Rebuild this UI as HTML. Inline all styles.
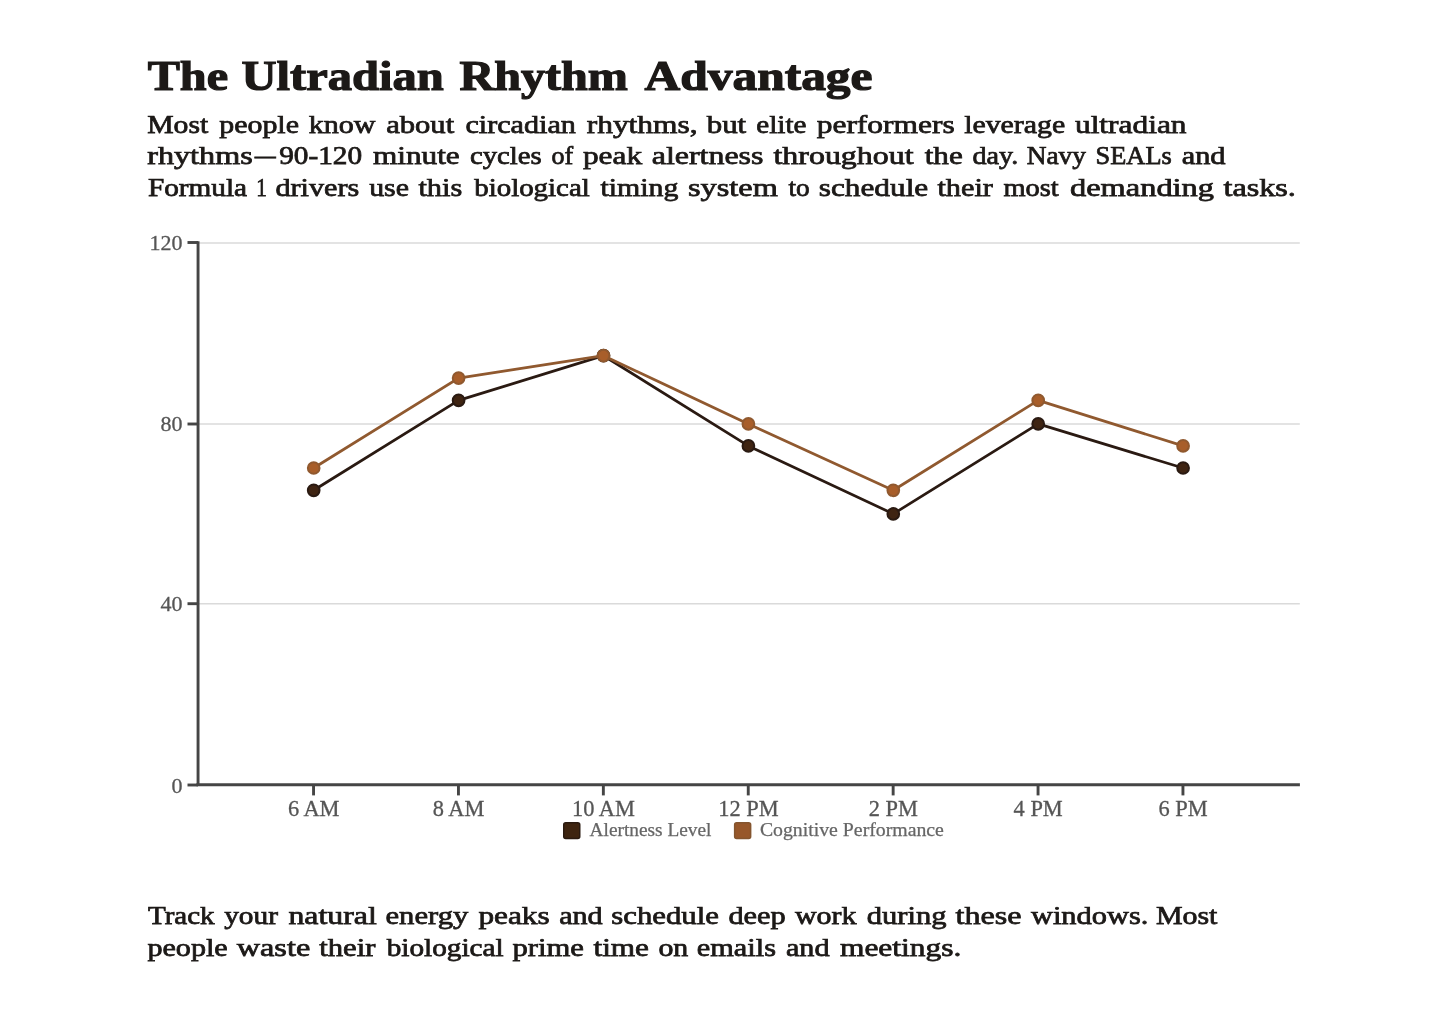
<!DOCTYPE html>
<html>
<head>
<meta charset="utf-8">
<style>
html,body{margin:0;padding:0;background:#fff;}
body{width:1445px;height:1022px;position:relative;overflow:hidden;font-family:"Liberation Serif",serif;}
#txt{position:absolute;left:0;top:0;width:1445px;height:1022px;will-change:transform;}
.w{position:absolute;white-space:nowrap;transform-origin:0 0;color:#1c1917;line-height:1;}
.title{font-weight:bold;font-size:43px;-webkit-text-stroke:1.2px #1c1917;}
.p{font-size:26px;-webkit-text-stroke:0.75px #1c1917;}
svg{will-change:transform;position:absolute;left:0;top:0;}
svg text{font-family:"Liberation Serif",serif;}
</style>
</head>
<body>
<div id="txt">
<span class="w title" style="left:0;top:54px;transform:translate(147.67px,0.3px) scaleX(1.1212)">The</span>
<span class="w title" style="left:0;top:54px;transform:translate(241.55px,0.3px) scaleX(1.1283)">Ultradian</span>
<span class="w title" style="left:0;top:54px;transform:translate(459.42px,0.3px) scaleX(1.1191)">Rhythm</span>
<span class="w title" style="left:0;top:54px;transform:translate(644.44px,0.3px) scaleX(1.1504)">Advantage</span>
<span class="w p" style="left:0;top:112px;transform:translate(147.18px,0.05px) scaleX(1.1412)">Most</span>
<span class="w p" style="left:0;top:112px;transform:translate(219.18px,0.05px) scaleX(1.1509)">people</span>
<span class="w p" style="left:0;top:112px;transform:translate(308.68px,0.05px) scaleX(1.1574)">know</span>
<span class="w p" style="left:0;top:112px;transform:translate(386.19px,0.05px) scaleX(1.1764)">about</span>
<span class="w p" style="left:0;top:112px;transform:translate(465.43px,0.05px) scaleX(1.1587)">circadian</span>
<span class="w p" style="left:0;top:112px;transform:translate(586.70px,0.05px) scaleX(1.2091)">rhythms,</span>
<span class="w p" style="left:0;top:112px;transform:translate(706.70px,0.05px) scaleX(1.1871)">but</span>
<span class="w p" style="left:0;top:112px;transform:translate(756.30px,0.05px) scaleX(1.1203)">elite</span>
<span class="w p" style="left:0;top:112px;transform:translate(816.70px,0.05px) scaleX(1.2098)">performers</span>
<span class="w p" style="left:0;top:112px;transform:translate(964.18px,0.05px) scaleX(1.1473)">leverage</span>
<span class="w p" style="left:0;top:112px;transform:translate(1074.95px,0.05px) scaleX(1.2076)">ultradian</span>
<span class="w p" style="left:0;top:143px;transform:translate(147.21px,0.25px) scaleX(1.2375)">rhythms</span>
<span class="w p" style="left:0;top:143px;transform:translate(254.86px,0.25px) scaleX(0.8087)">—</span>
<span class="w p" style="left:0;top:143px;transform:translate(279.17px,0.25px) scaleX(1.1255)">90-120</span>
<span class="w p" style="left:0;top:143px;transform:translate(372.95px,0.25px) scaleX(1.2013)">minute</span>
<span class="w p" style="left:0;top:143px;transform:translate(469.91px,0.25px) scaleX(1.1053)">cycles</span>
<span class="w p" style="left:0;top:143px;transform:translate(551.62px,0.25px) scaleX(1.0000)">of</span>
<span class="w p" style="left:0;top:143px;transform:translate(582.95px,0.25px) scaleX(1.2041)">peak</span>
<span class="w p" style="left:0;top:143px;transform:translate(651.71px,0.25px) scaleX(1.2282)">alertness</span>
<span class="w p" style="left:0;top:143px;transform:translate(773.46px,0.25px) scaleX(1.2280)">throughout</span>
<span class="w p" style="left:0;top:143px;transform:translate(924.70px,0.25px) scaleX(1.1963)">the</span>
<span class="w p" style="left:0;top:143px;transform:translate(972.41px,0.25px) scaleX(1.0817)">day.</span>
<span class="w p" style="left:0;top:143px;transform:translate(1026.64px,0.25px) scaleX(1.0514)">Navy</span>
<span class="w p" style="left:0;top:143px;transform:translate(1095.62px,0.25px) scaleX(1.0134)">SEALs</span>
<span class="w p" style="left:0;top:143px;transform:translate(1181.69px,0.25px) scaleX(1.1687)">and</span>
<span class="w p" style="left:0;top:175px;transform:translate(147.92px,0.1px) scaleX(1.1252)">Formula</span>
<span class="w p" style="left:0;top:175px;transform:translate(256.18px,0.1px) scaleX(0.8140)">1</span>
<span class="w p" style="left:0;top:175px;transform:translate(275.44px,0.1px) scaleX(1.1602)">drivers</span>
<span class="w p" style="left:0;top:175px;transform:translate(369.18px,0.1px) scaleX(1.1472)">use</span>
<span class="w p" style="left:0;top:175px;transform:translate(418.44px,0.1px) scaleX(1.1650)">this</span>
<span class="w p" style="left:0;top:175px;transform:translate(474.17px,0.1px) scaleX(1.1124)">biological</span>
<span class="w p" style="left:0;top:175px;transform:translate(600.43px,0.1px) scaleX(1.1472)">timing</span>
<span class="w p" style="left:0;top:175px;transform:translate(687.97px,0.1px) scaleX(1.2439)">system</span>
<span class="w p" style="left:0;top:175px;transform:translate(788.39px,0.1px) scaleX(1.0489)">to</span>
<span class="w p" style="left:0;top:175px;transform:translate(818.75px,0.1px) scaleX(1.2033)">schedule</span>
<span class="w p" style="left:0;top:175px;transform:translate(937.44px,0.1px) scaleX(1.1644)">their</span>
<span class="w p" style="left:0;top:175px;transform:translate(1003.41px,0.1px) scaleX(1.0942)">most</span>
<span class="w p" style="left:0;top:175px;transform:translate(1069.97px,0.1px) scaleX(1.2470)">demanding</span>
<span class="w p" style="left:0;top:175px;transform:translate(1223.46px,0.1px) scaleX(1.2381)">tasks.</span>
<span class="w p" style="left:0;top:903px;transform:translate(147.92px,0.35px) scaleX(1.1165)">Track</span>
<span class="w p" style="left:0;top:903px;transform:translate(224.17px,0.35px) scaleX(1.1282)">your</span>
<span class="w p" style="left:0;top:903px;transform:translate(288.46px,0.35px) scaleX(1.2240)">natural</span>
<span class="w p" style="left:0;top:903px;transform:translate(385.51px,0.35px) scaleX(1.1783)">energy</span>
<span class="w p" style="left:0;top:903px;transform:translate(478.45px,0.35px) scaleX(1.2034)">peaks</span>
<span class="w p" style="left:0;top:903px;transform:translate(559.18px,0.35px) scaleX(1.1557)">and</span>
<span class="w p" style="left:0;top:903px;transform:translate(611.26px,0.35px) scaleX(1.1839)">schedule</span>
<span class="w p" style="left:0;top:903px;transform:translate(728.44px,0.35px) scaleX(1.1673)">deep</span>
<span class="w p" style="left:0;top:903px;transform:translate(794.93px,0.35px) scaleX(1.1535)">work</span>
<span class="w p" style="left:0;top:903px;transform:translate(866.69px,0.35px) scaleX(1.1766)">during</span>
<span class="w p" style="left:0;top:903px;transform:translate(955.46px,0.35px) scaleX(1.2353)">these</span>
<span class="w p" style="left:0;top:903px;transform:translate(1030.94px,0.35px) scaleX(1.1692)">windows.</span>
<span class="w p" style="left:0;top:903px;transform:translate(1155.93px,0.35px) scaleX(1.1503)">Most</span>
<span class="w p" style="left:0;top:935px;transform:translate(147.43px,0.35px) scaleX(1.1580)">people</span>
<span class="w p" style="left:0;top:935px;transform:translate(236.72px,0.35px) scaleX(1.2414)">waste</span>
<span class="w p" style="left:0;top:935px;transform:translate(319.19px,0.35px) scaleX(1.1798)">their</span>
<span class="w p" style="left:0;top:935px;transform:translate(386.67px,0.35px) scaleX(1.1244)">biological</span>
<span class="w p" style="left:0;top:935px;transform:translate(512.44px,0.35px) scaleX(1.1790)">prime</span>
<span class="w p" style="left:0;top:935px;transform:translate(593.45px,0.35px) scaleX(1.2010)">time</span>
<span class="w p" style="left:0;top:935px;transform:translate(658.43px,0.35px) scaleX(1.1495)">on</span>
<span class="w p" style="left:0;top:935px;transform:translate(696.77px,0.35px) scaleX(1.1666)">emails</span>
<span class="w p" style="left:0;top:935px;transform:translate(785.94px,0.35px) scaleX(1.1622)">and</span>
<span class="w p" style="left:0;top:935px;transform:translate(839.95px,0.35px) scaleX(1.2096)">meetings.</span>
</div>
<svg width="1445" height="1022" viewBox="0 0 1445 1022">
<g stroke="#dadada" stroke-width="1.5">
<line x1="199" y1="242.90" x2="1299.8" y2="242.90"/>
<line x1="199" y1="424.00" x2="1299.8" y2="424.00"/>
<line x1="199" y1="603.65" x2="1299.8" y2="603.65"/>
</g>
<g stroke="#454545" stroke-width="2.9" fill="none">
<line x1="198.05" y1="241.29999999999998" x2="198.05" y2="785.3000000000001"/>
<line x1="196.4" y1="784.7" x2="1299.9" y2="784.7"/>
<line x1="187.5" y1="242.5" x2="198" y2="242.5"/>
<line x1="187.5" y1="424.0" x2="198" y2="424.0"/>
<line x1="187.5" y1="603.7" x2="198" y2="603.7"/>
<line x1="187.5" y1="785.0" x2="198" y2="785.0"/>
<line x1="313.55" y1="784.7" x2="313.55" y2="795.4"/>
<line x1="458.45" y1="784.7" x2="458.45" y2="795.4"/>
<line x1="603.35" y1="784.7" x2="603.35" y2="795.4"/>
<line x1="748.25" y1="784.7" x2="748.25" y2="795.4"/>
<line x1="893.15" y1="784.7" x2="893.15" y2="795.4"/>
<line x1="1038.05" y1="784.7" x2="1038.05" y2="795.4"/>
<line x1="1182.95" y1="784.7" x2="1182.95" y2="795.4"/>
</g>
<g fill="#555" stroke="#555" stroke-width="0.3" font-size="22" text-anchor="end">
<text x="182.4" y="250.3">120</text>
<text x="182.4" y="431.2">80</text>
<text x="182.4" y="611.2">40</text>
<text x="182.4" y="792.6">0</text>
</g>
<g fill="#555" stroke="#555" stroke-width="0.3" font-size="22.4" text-anchor="middle">
<text x="313.7" y="816.3">6 AM</text>
<text x="458.6" y="816.3">8 AM</text>
<text x="603.5" y="816.3">10 AM</text>
<text x="748.4" y="816.3">12 PM</text>
<text x="893.3" y="816.3">2 PM</text>
<text x="1038.2" y="816.3">4 PM</text>
<text x="1183.1" y="816.3">6 PM</text>
</g>
<polyline fill="none" stroke="#2a1a12" stroke-width="2.8" stroke-linejoin="round" points="313.7,490.3 458.6,400.4 603.5,355.7 748.4,445.9 893.3,513.9 1038.2,423.9 1183.1,468.0"/>
<g fill="#3f2412" stroke="#2a1a12" stroke-width="2">
<circle cx="313.7" cy="490.3" r="5.85"/>
<circle cx="458.6" cy="400.4" r="5.85"/>
<circle cx="603.5" cy="355.7" r="5.85"/>
<circle cx="748.4" cy="445.9" r="5.85"/>
<circle cx="893.3" cy="513.9" r="5.85"/>
<circle cx="1038.2" cy="423.9" r="5.85"/>
<circle cx="1183.1" cy="468.0" r="5.85"/>
</g>
<polyline fill="none" stroke="#90592f" stroke-width="2.8" stroke-linejoin="round" points="313.7,468.0 458.6,378.1 603.5,355.7 748.4,423.9 893.3,490.3 1038.2,400.4 1183.1,445.9"/>
<g fill="#a85e2a" stroke="#90592f" stroke-width="2">
<circle cx="313.7" cy="468.0" r="5.85"/>
<circle cx="458.6" cy="378.1" r="5.85"/>
<circle cx="603.5" cy="355.7" r="5.85"/>
<circle cx="748.4" cy="423.9" r="5.85"/>
<circle cx="893.3" cy="490.3" r="5.85"/>
<circle cx="1038.2" cy="400.4" r="5.85"/>
<circle cx="1183.1" cy="445.9" r="5.85"/>
</g>
<rect x="563.75" y="822.75" width="16" height="15.7" rx="2" fill="#3e2410" stroke="#2a1a10" stroke-width="1.5"/>
<text id="lg1" x="589.6" y="836.3" font-size="18" fill="#666" stroke="#666" stroke-width="0.25" textLength="121.8" lengthAdjust="spacingAndGlyphs">Alertness Level</text>
<rect x="734.65" y="822.75" width="16" height="15.7" rx="2" fill="#97572a" stroke="#84552f" stroke-width="1.5"/>
<text id="lg2" x="759.9" y="836.3" font-size="18" fill="#666" stroke="#666" stroke-width="0.25" textLength="184" lengthAdjust="spacingAndGlyphs">Cognitive Performance</text>
</svg>
</body>
</html>
